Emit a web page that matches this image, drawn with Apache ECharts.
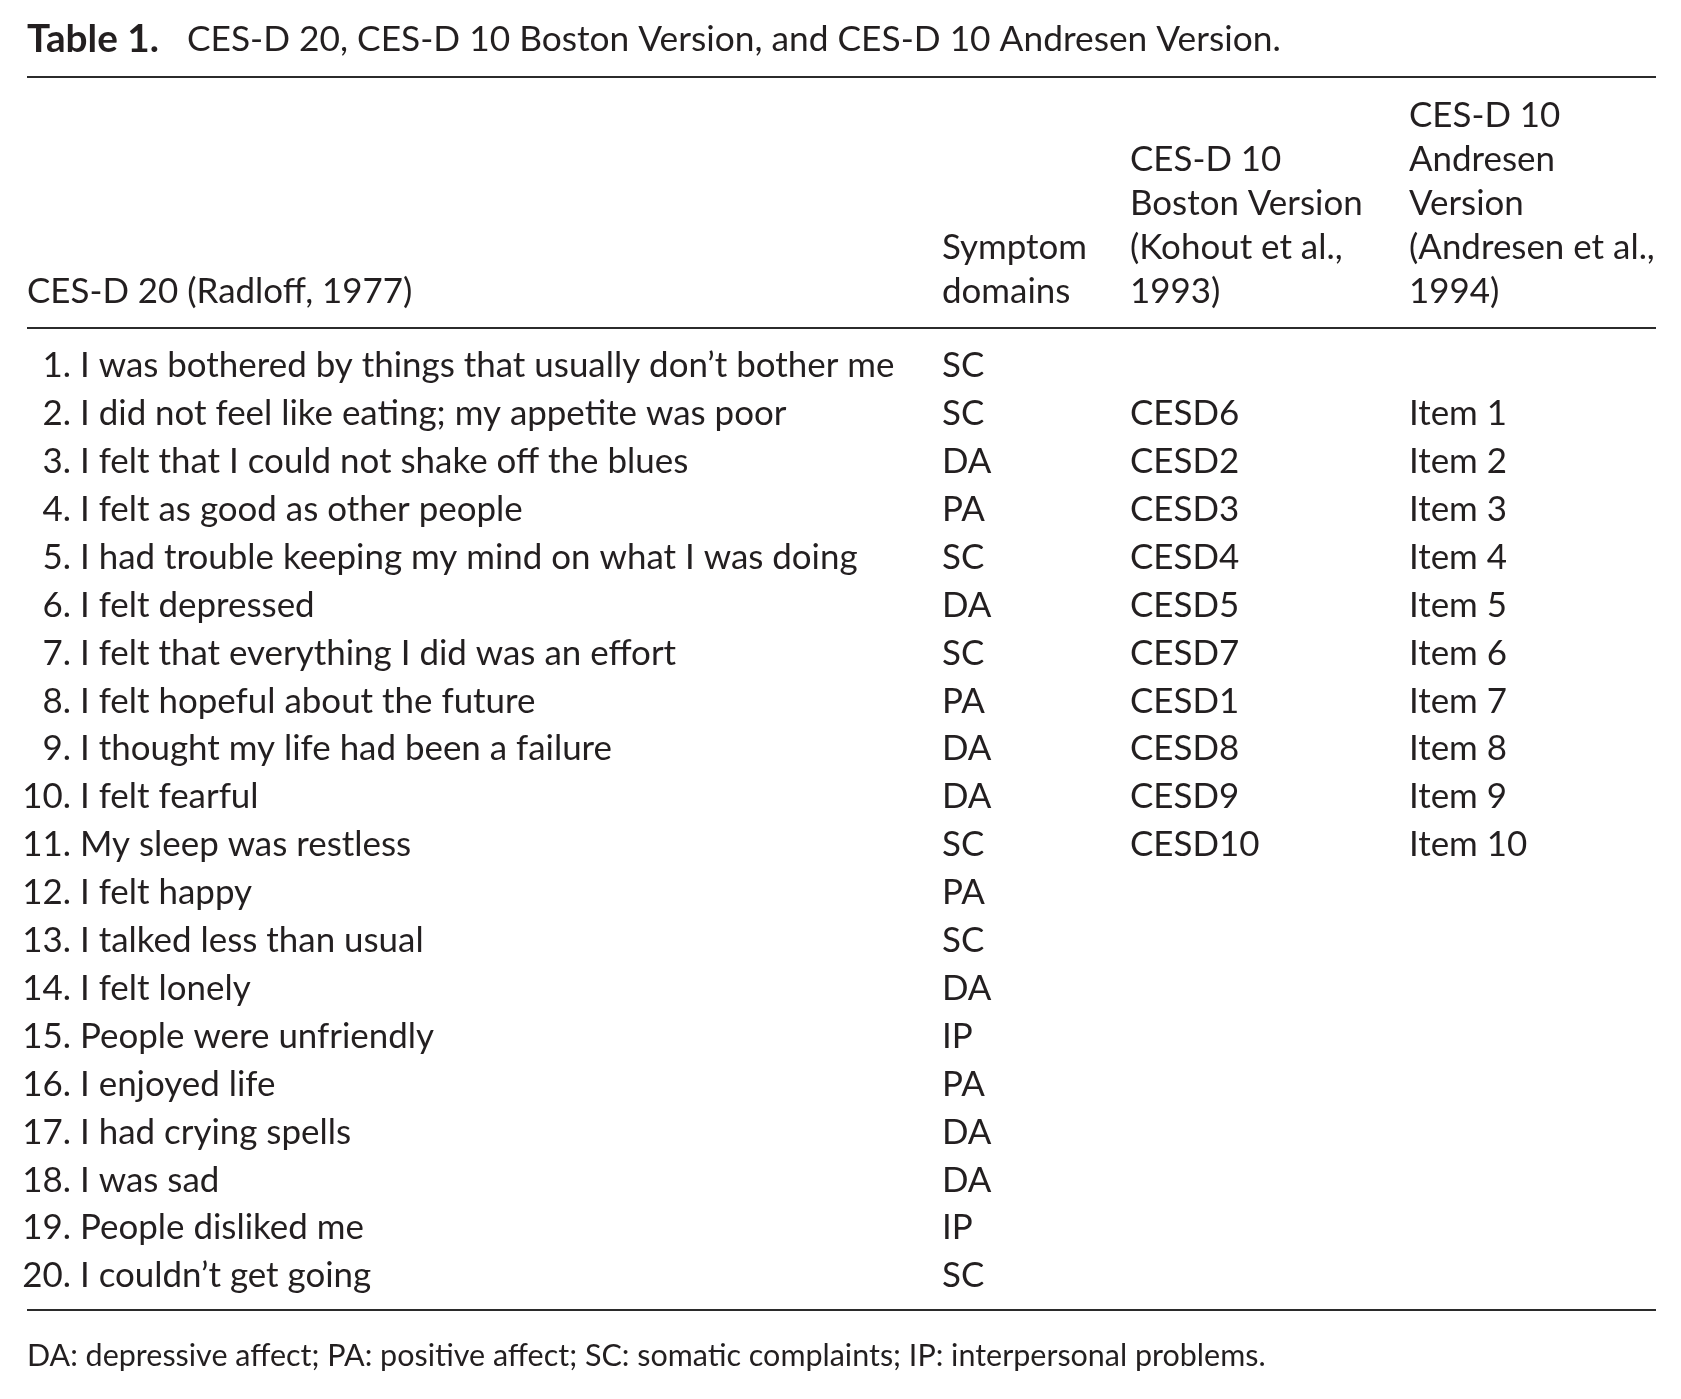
<!DOCTYPE html>
<html>
<head>
<meta charset="utf-8">
<script src="https://cdn.jsdelivr.net/npm/echarts@6/dist/echarts.min.js"></script>
<style>
html,body{margin:0;padding:0;background:#fff;}
#chart{width:1681px;height:1399px;}
</style>
</head>
<body>
<div id="chart"></div>
<script>
// ---------- data ----------
const titleBold = 'Table 1.';
const titleText = 'CES-D 20, CES-D 10 Boston Version, and CES-D 10 Andresen Version.';
const headerCol1 = ['CES-D 20 (Radloff, 1977)'];
const headerCol2 = ['Symptom', 'domains'];
const headerCol3 = ['CES-D 10', 'Boston Version', '(Kohout et al.,', '1993)'];
const headerCol4 = ['CES-D 10', 'Andresen', 'Version', '(Andresen et al.,', '1994)'];
const itemNumbers = ['1.','2.','3.','4.','5.','6.','7.','8.','9.','10.','11.','12.','13.','14.','15.','16.','17.','18.','19.','20.'];
const items = [
  'I was bothered by things that usually don\u2019t bother me',
  'I did not feel like eating; my appetite was poor',
  'I felt that I could not shake off the blues',
  'I felt as good as other people',
  'I had trouble keeping my mind on what I was doing',
  'I felt depressed',
  'I felt that everything I did was an effort',
  'I felt hopeful about the future',
  'I thought my life had been a failure',
  'I felt fearful',
  'My sleep was restless',
  'I felt happy',
  'I talked less than usual',
  'I felt lonely',
  'People were unfriendly',
  'I enjoyed life',
  'I had crying spells',
  'I was sad',
  'People disliked me',
  'I couldn\u2019t get going'
];
const domains = ['SC','SC','DA','PA','SC','DA','SC','PA','DA','DA','SC','PA','SC','DA','IP','PA','DA','DA','IP','SC'];
const bostonVersion = ['','CESD6','CESD2','CESD3','CESD4','CESD5','CESD7','CESD1','CESD8','CESD9','CESD10','','','','','','','','',''];
const andresenVersion = ['','Item 1','Item 2','Item 3','Item 4','Item 5','Item 6','Item 7','Item 8','Item 9','Item 10','','','','','','','','',''];
const footnote = 'DA: depressive affect; PA: positive affect; SC: somatic complaints; IP: interpersonal problems.';

// ---------- layout / style ----------
const FONT = 'Lato';
const INK = '#231f20';
const RULE = '#2b2b2b';
const ctx = document.createElement('canvas').getContext('2d');
function w100(s, bold) { ctx.font = (bold ? 'bold ' : '') + '100px ' + FONT; return ctx.measureText(s).width; }
const bodySize = 815 / w100(items[0]) * 100;
const titleSize = 1094 / w100(titleText) * 100;
const titleBoldSize = 132 / w100(titleBold, true) * 100;
const footSize = 1239 / w100(footnote) * 100;

const X_LEFT = 27, X_RIGHT = 1656;
const X_NUM_END = 71, X_ITEM = 80, X_COL2 = 942, X_COL3 = 1130, X_COL4 = 1409;
const HEADER_LINE_Y = [116, 160, 204, 248, 292];

function headerTexts(lines, x) {
  const start = HEADER_LINE_Y.length - lines.length;
  return lines.map((t, i) => ({
    type: 'text',
    style: { text: t, x: x, y: HEADER_LINE_Y[start + i], fill: INK, fontSize: bodySize, fontFamily: FONT, align: 'left', verticalAlign: 'middle' }
  }));
}
function rule(y) {
  return { type: 'line', shape: { x1: X_LEFT, y1: y, x2: X_RIGHT, y2: y }, style: { stroke: RULE, lineWidth: 2 } };
}

const graphics = [
  { type: 'text', style: { text: titleBold, x: X_LEFT, y: 40, fill: INK, fontSize: titleBoldSize, fontFamily: FONT, fontWeight: 'bold', align: 'left', verticalAlign: 'middle' } },
  { type: 'text', style: { text: titleText, x: 187, y: 40, fill: INK, fontSize: titleSize, fontFamily: FONT, align: 'left', verticalAlign: 'middle' } },
  rule(77), rule(328), rule(1310),
  ...headerTexts(headerCol1, X_LEFT),
  ...headerTexts(headerCol2, X_COL2),
  ...headerTexts(headerCol3, X_COL3),
  ...headerTexts(headerCol4, X_COL4),
  { type: 'text', style: { text: footnote, x: X_LEFT, y: 1356, fill: INK, fontSize: footSize, fontFamily: FONT, align: 'left', verticalAlign: 'middle' } }
];

function txt(t, x, y, align) {
  return { type: 'text', style: { text: t, x: x, y: y, fill: INK, fontSize: bodySize, fontFamily: FONT, align: align || 'left', verticalAlign: 'middle' } };
}

const chart = echarts.init(document.getElementById('chart'), null, { renderer: 'canvas' });
chart.setOption({
  backgroundColor: '#ffffff',
  animation: false,
  grid: { left: 0, right: 0, top: 342, height: 958 },
  xAxis: { type: 'value', min: 0, max: 1, show: false },
  yAxis: { type: 'category', data: itemNumbers, inverse: true, show: false },
  graphic: graphics,
  series: [{
    type: 'custom',
    data: items.map((_, i) => [0, i]),
    renderItem: function (params, api) {
      const i = api.value(1);
      const y = api.coord([0, i])[1];
      return {
        type: 'group',
        children: [
          txt(itemNumbers[i], X_NUM_END, y, 'right'),
          txt(items[i], X_ITEM, y),
          txt(domains[i], X_COL2, y),
          txt(bostonVersion[i], X_COL3, y),
          txt(andresenVersion[i], X_COL4, y)
        ]
      };
    }
  }]
});
</script>
</body>
</html>
